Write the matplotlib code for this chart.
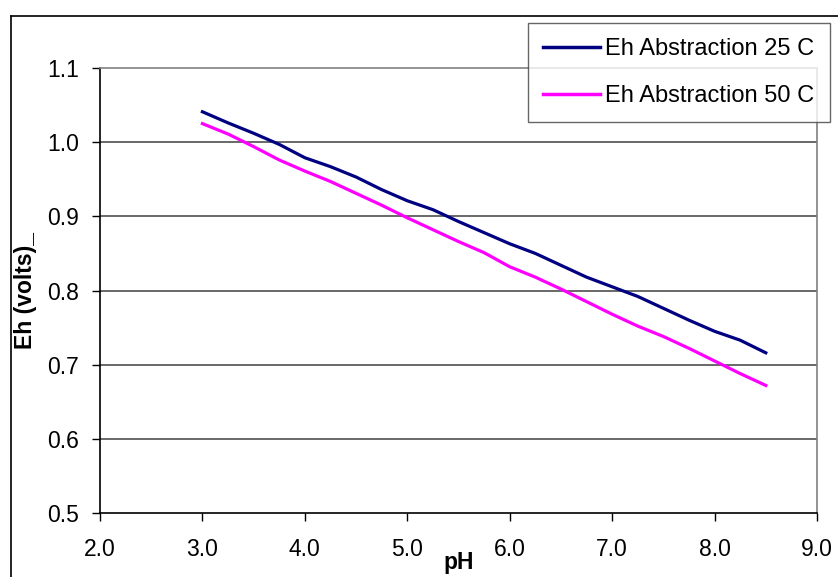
import numpy as np
import matplotlib
matplotlib.use("Agg")
import matplotlib.pyplot as plt
from matplotlib.lines import Line2D

plt.rcParams['font.family'] = ['Liberation Sans', 'DejaVu Sans']

# data
ph = [3.0, 3.25, 3.5, 3.75, 4.0, 4.25, 4.5, 4.75, 5.0, 5.25, 5.5, 5.75,
      6.0, 6.25, 6.5, 6.75, 7.0, 7.25, 7.5, 7.75, 8.0, 8.25, 8.5]
eh25 = [1.041, 1.026, 1.012, 0.997, 0.979, 0.967, 0.953, 0.936, 0.921, 0.909, 0.893, 0.878,
        0.863, 0.850, 0.834, 0.818, 0.805, 0.792, 0.776, 0.760, 0.745, 0.733, 0.716]
eh50 = [1.025, 1.011, 0.994, 0.976, 0.961, 0.947, 0.931, 0.915, 0.898, 0.882, 0.866, 0.851,
        0.832, 0.818, 0.802, 0.785, 0.768, 0.752, 0.738, 0.722, 0.705, 0.688, 0.672]
labels = ["Eh Abstraction 25 C", "Eh Abstraction 50 C"]
xticks = [2.0, 3.0, 4.0, 5.0, 6.0, 7.0, 8.0, 9.0]
yticks = [0.5, 0.6, 0.7, 0.8, 0.9, 1.0, 1.1]

W, H = 838, 577
fs = 16.5
fig = plt.figure(figsize=(W / 100, H / 100), dpi=100)
ax = fig.add_axes([100 / W, 1 - 513 / H, 717 / W, 445 / H])

# outer chart frame (right and bottom edges fall outside the picture)
fig.add_artist(Line2D([11 / W, 11 / W], [0, 1 - 16 / H], color='black', lw=1.2))
fig.add_artist(Line2D([11 / W, 1], [1 - 16 / H, 1 - 16 / H], color='black', lw=1.2))

for v in yticks[1:-1]:
  ax.axhline(v, color='#404040', lw=1.1, zorder=1)

ax.plot(ph, eh25, color='#000080', lw=2.3, label=labels[0], zorder=3)
ax.plot(ph, eh50, color='#FF00FF', lw=2.3, label=labels[1], zorder=3)

ax.set_xlim(2.0, 9.0)
ax.set_ylim(0.5, 1.1)
ax.set_xticks(xticks)
ax.set_yticks(yticks)
ax.set_xticklabels(["%.1f" % t for t in xticks])
ax.set_yticklabels(["%.1f" % t for t in yticks])
ax.tick_params(axis='both', labelsize=fs, length=6, width=1, color='black')
ax.tick_params(axis='x', pad=12)
ax.tick_params(axis='y', pad=9)

ax.spines['left'].set_color('black')
ax.spines['bottom'].set_color('black')
ax.spines['top'].set_color('#808080')
ax.spines['right'].set_color('#808080')
for s in ax.spines.values():
  s.set_linewidth(1.2)

ax.set_xlabel("pH", fontsize=fs, fontweight='bold')
ax.xaxis.set_label_coords(0.5, -0.085)
ax.set_ylabel("Eh (volts)_", fontsize=fs, fontweight='bold')
ax.yaxis.set_label_coords(-0.088, 0.5)

leg = fig.legend(loc='upper left', bbox_to_anchor=(528 / W, 1 - 23 / H),
                 fontsize=17, frameon=True, fancybox=False, shadow=False,
                 handlelength=2.4, handletextpad=0.22, borderpad=0.65,
                 labelspacing=1.05, borderaxespad=0)
leg.get_frame().set_edgecolor('#404040')
leg.get_frame().set_linewidth(1.0)
for line in leg.get_lines():
  line.set_linewidth(2.5)

fig.savefig("out.png", dpi=100)
